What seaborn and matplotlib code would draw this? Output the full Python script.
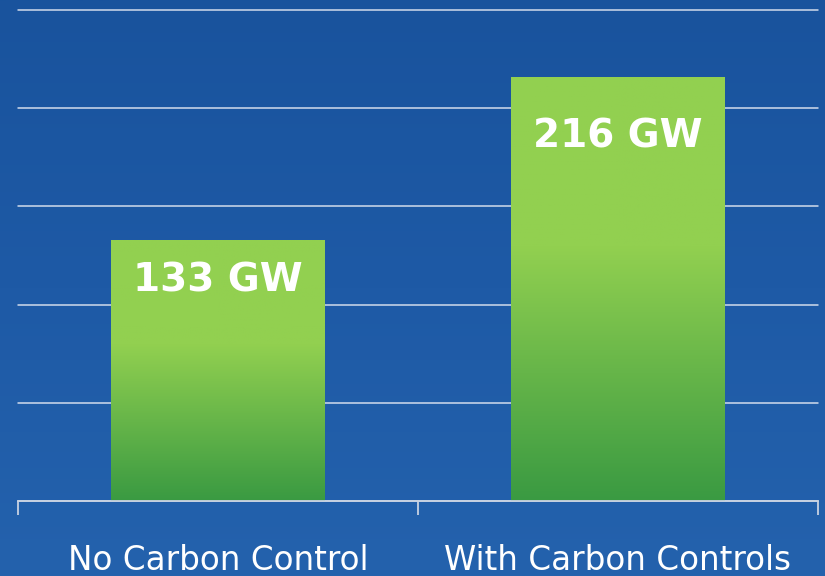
import numpy as np
import pandas as pd
import matplotlib
matplotlib.use('Agg')
import matplotlib.pyplot as plt
import seaborn as sns
from matplotlib.colors import LinearSegmentedColormap

# data
categories = ['No Carbon Control', 'With Carbon Controls']
capacity_gw = [133, 216]
value_labels = ['133 GW', '216 GW']
label_drop_px = [22, 41]   # how far below the bar top each label sits

df = pd.DataFrame({'case': categories, 'gw': capacity_gw})

sns.set_theme(style='white')
plt.rcParams['font.family'] = ['DejaVu Sans']

bg = '#1f5aa5'
fig = plt.figure(figsize=(8.25, 5.76), dpi=100, facecolor=bg)

# subtle background shading
bgax = fig.add_axes([0, 0, 1, 1], zorder=-10)
grad = np.linspace(0, 1, 256).reshape(-1, 1)
bg_cmap = LinearSegmentedColormap.from_list('bg', ['#19539d', '#1e5aa6', '#2462ad'])
bgax.imshow(grad, aspect='auto', cmap=bg_cmap, extent=[0, 1, 0, 1], origin='upper')
bgax.axis('off')

ax = fig.add_axes([18 / 825, 75 / 576, 800 / 825, 491 / 576])
ax.set_facecolor('none')

sns.barplot(data=df, x='case', y='gw', width=0.535, color='#92d050', ax=ax, zorder=3)

ax.set_xlim(-0.5, 1.5)
ax.set_ylim(0, 250)
ax.set_yticks(np.arange(0, 251, 50))
ax.yaxis.grid(True, color='#d2dcec', lw=1.1, zorder=1)
for gl in ax.get_ygridlines():
    gl.set_clip_on(False)
ax.xaxis.grid(False)
ax.tick_params(axis='y', left=False, labelleft=False)

# gradient fill on each bar
bar_cmap = LinearSegmentedColormap.from_list(
    'bar', [(0, '#3a9a42'), (0.6, '#92d050'), (1, '#92d050')])
for p in ax.patches:
    x0, w, h = p.get_x(), p.get_width(), p.get_height()
    img = ax.imshow(np.linspace(0, 1, 256).reshape(-1, 1), cmap=bar_cmap, origin='lower',
                    extent=[x0, x0 + w, 0, h], aspect='auto', zorder=3)
    img.set_clip_path(p)
    p.set_facecolor('none')
    p.set_edgecolor('none')
ax.set_xlim(-0.5, 1.5)
ax.set_ylim(0, 250)

for i, (lab, v) in enumerate(zip(value_labels, capacity_gw)):
    ax.annotate(lab, (i, v), xytext=(0, -label_drop_px[i] * 0.72), textcoords='offset points',
                ha='center', va='top', color='white', fontsize=28, fontweight='bold', zorder=5)

for side in ['top', 'right', 'left']:
    ax.spines[side].set_visible(False)
ax.spines['bottom'].set_color('#c8d2e2')
ax.spines['bottom'].set_linewidth(1.3)
ax.spines['bottom'].set_zorder(4)

ax.set_xticks([0, 1])
ax.set_xticklabels(categories)
ax.set_xticks([-0.5, 0.5, 1.5], minor=True)
ax.tick_params(axis='x', which='major', length=0, pad=31, labelsize=23.5, labelcolor='white')
ax.tick_params(axis='x', which='minor', bottom=True, length=10, width=1.3, color='#c8d2e2')
ax.set_xlabel('')
ax.set_ylabel('')

fig.savefig('out.png', dpi=100, facecolor=bg)
